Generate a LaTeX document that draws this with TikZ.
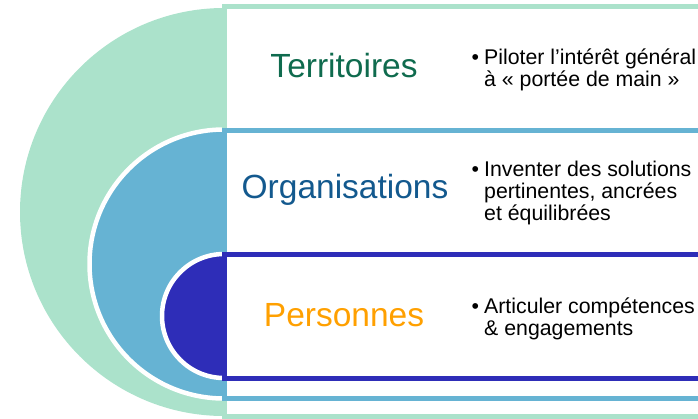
\documentclass[tikz,border=0pt]{standalone}
\usepackage{fontspec}
\setmainfont{Liberation Sans}
\definecolor{mint}{HTML}{ABE2CB}
\definecolor{sky}{HTML}{66B3D3}
\definecolor{indigo}{HTML}{2E2DB8}
\definecolor{tgreen}{HTML}{0F6B4E}
\definecolor{oblue}{HTML}{13598E}
\definecolor{porange}{HTML}{FFA000}
\newcommand{\bullines}[1]{\vtop{\lineskiplimit=-\maxdimen\baselineskip=22pt #1}}
\begin{document}
\begin{tikzpicture}[x=1pt,y=-1pt,
  head/.style={font=\fontsize{33.5}{40}\selectfont, inner sep=0pt, anchor=base},
  bul/.style={font=\fontsize{21.3}{22}\selectfont, inner sep=0pt, anchor=base west, text=black},
  disc/.style={draw=white, line width=4.5pt},
  band/.style={line width=5pt, fill=white}]
\useasboundingbox (0,0) rectangle (698,418);
\begin{scope}
\clip (0,0) rectangle (698,418);
% nested half discs
\fill[mint] (224,212) circle[radius=204pt];
\draw[disc, fill=sky] (224,264) circle[radius=134.5pt];
\draw[disc, fill=indigo] (224,316) circle[radius=62pt];
% bands
\draw[band, draw=mint] (224.3,6.8) rectangle (740,416.8);
\draw[band, draw=sky] (224.3,130) rectangle (740,398);
\draw[band, draw=indigo] (224.3,254.5) rectangle (740,378);
\end{scope}
% headings
\node[head, text=tgreen] (terr) at (344,77) {Territoires};
\node[head, text=oblue] (orga) at (345,198.5) {Organisations};
\node[head, text=porange] (pers) at (344,326) {Personnes};
% bullets
\node[bul] (tb) at (484,64.5) {\bullines{\hbox{\llap{•\hskip 5pt}Piloter l’intérêt général}\hbox{à « portée de main »}}};
\node[bul] (ob) at (484,176) {\bullines{\hbox{\llap{•\hskip 5pt}Inventer des solutions}\hbox{pertinentes, ancrées}\hbox{et équilibrées}}};
\node[bul] (pb) at (484,313.3) {\bullines{\hbox{\llap{•\hskip 5pt}Articuler compétences}\hbox{\& engagements}}};
\end{tikzpicture}
\end{document}
